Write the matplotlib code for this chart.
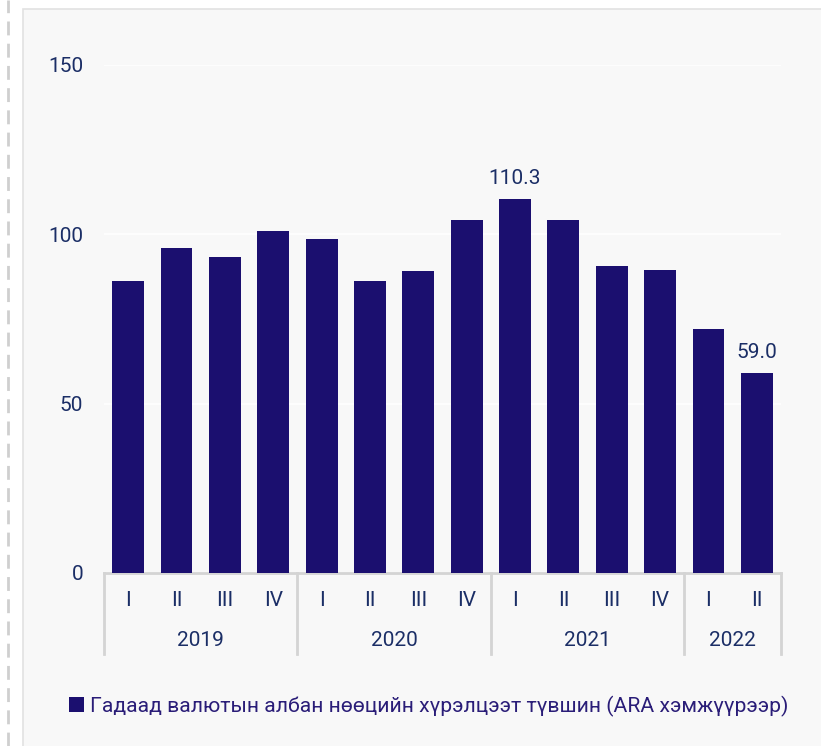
import matplotlib.pyplot as plt
from matplotlib.patches import Rectangle
from matplotlib.lines import Line2D
import matplotlib.transforms as mtransforms

plt.rcParams['font.family'] = ['Roboto', 'DejaVu Sans']

# data
years = ['2019', '2020', '2021', '2022']
year_sizes = [4, 4, 4, 2]
quarters = ['I', 'II', 'III', 'IV', 'I', 'II', 'III', 'IV',
            'I', 'II', 'III', 'IV', 'I', 'II']
values = [86.2, 96.0, 93.3, 101.0, 98.6, 86.2, 89.2, 104.2,
          110.3, 104.2, 90.6, 89.5, 72.0, 59.0]
labelled = {8: '110.3', 13: '59.0'}
legend_label = 'Гадаад валютын албан нөөцийн хүрэлцээт түвшин (ARA хэмжүүрээр)'

bar_color = '#1b0f6f'
text_color = '#1b2e66'
grid_gray = '#d4d4d4'

W, H = 821, 746
fig = plt.figure(figsize=(W / 100, H / 100), dpi=100, facecolor='white')

# panel background and dashed line on the left
fig.patches.append(Rectangle((23 / W, -0.05), 1, 1.05 - 9 / H, transform=fig.transFigure,
                             facecolor='#f8f8f8', edgecolor='#e2e2e2', lw=1.2, zorder=-2))
fig.lines.append(Line2D([8 / W, 8 / W], [0, 1], transform=fig.transFigure,
                        color='#cfcfcf', lw=2, ls=(0, (5, 3)), zorder=-2))

left, right, bottom, top = 104, 781, 573, 65
ax = fig.add_axes([left / W, 1 - bottom / H, (right - left) / W, (bottom - top) / H])
ax.set_facecolor('none')

x = list(range(len(values)))
ax.bar(x, values, width=0.66, color=bar_color, zorder=3, label=legend_label)
ax.set_xlim(-0.5, len(values) - 0.5)
ax.set_ylim(0, 150)
ax.set_yticks([0, 50, 100, 150])
ax.tick_params(axis='y', length=0, pad=15, labelsize=15, labelcolor=text_color)
ax.set_xticks([])
for s in ['top', 'right', 'left']:
    ax.spines[s].set_visible(False)
ax.spines['bottom'].set_color(grid_gray)
ax.spines['bottom'].set_linewidth(2)
ax.yaxis.grid(True, color='white', lw=1.2, zorder=1)

for i, lab in labelled.items():
    ax.annotate(lab, (i, values[i]), xytext=(0, 8), textcoords='offset points',
                ha='center', va='bottom', fontsize=15, color=text_color)

trans = mtransforms.blended_transform_factory(ax.transData, ax.transAxes)
ah = bottom - top
for i, q in enumerate(quarters):
    ax.text(i, -28 / ah, q, transform=trans, ha='center', va='center',
            fontsize=15, color=text_color)

pos = -0.5
bounds = [pos]
for yr, n in zip(years, year_sizes):
    ax.text(pos + n / 2, -67 / ah, yr, transform=trans, ha='center', va='center',
            fontsize=15, color=text_color)
    pos += n
    bounds.append(pos)
for b in bounds:
    ax.plot([b, b], [0, -81 / ah], transform=trans, color=grid_gray, lw=2,
            clip_on=False)

fig.legend(loc='center left', bbox_to_anchor=(50 / W, 1 - 706 / H), frameon=False,
           fontsize=15.2, handlelength=0.7, handleheight=0.7, handletextpad=0.3,
           labelcolor='#2a1d78')

fig.savefig('out.png', dpi=100, facecolor='white')
